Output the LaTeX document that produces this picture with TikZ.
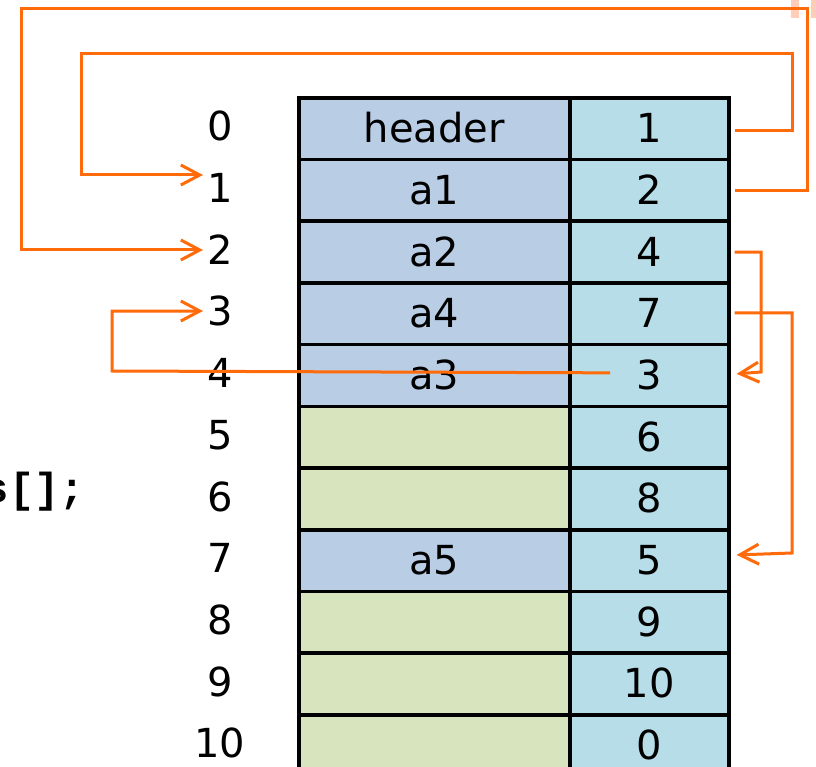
\documentclass[tikz,border=0pt]{standalone}
\usepackage{fontspec}
\setmainfont{DejaVu Sans}
\setmonofont{Liberation Mono}
\usetikzlibrary{arrows.meta,calc}
\definecolor{usedblue}{HTML}{B9CDE5}
\definecolor{freegreen}{HTML}{D7E4BD}
\definecolor{nextcyan}{HTML}{B7DEE8}
\definecolor{linkorange}{HTML}{FF6A0A}
\definecolor{paleorange}{HTML}{FFCDB8}
\begin{document}
\begin{tikzpicture}[x=1pt,y=-1pt,
  cell/.style={draw=black,line width=3.6pt,minimum height=61.7pt,inner sep=0pt,
    text height=28pt,text depth=0pt,anchor=north west,
    font=\fontsize{40}{48}\selectfont},
  datacell/.style={cell,minimum width=271pt},
  nextcell/.style={cell,fill=nextcyan,minimum width=159pt},
  idxlabel/.style={anchor=base,inner sep=0pt,font=\fontsize{40}{48}\selectfont},
  link/.style={draw=linkorange,line width=3pt},
  linkarrow/.style={link,-{Straight Barb[length=19pt,width=20pt,line width=3pt]}}
]
\clip (0,0) rectangle (816,767);
\useasboundingbox (0,0) rectangle (816,767);

% free-list table: payload column and next-index column
\foreach \i/\data/\fillc/\nxt in {0/header/usedblue/1, 1/a1/usedblue/2, 2/a2/usedblue/4,
    3/a4/usedblue/7, 4/a3/usedblue/3, 5//freegreen/6, 6//freegreen/8, 7/a5/usedblue/5,
    8//freegreen/9, 9//freegreen/10, 10//freegreen/0} {
  \pgfmathsetmacro{\top}{96+61.7*\i}
  \node[datacell,fill=\fillc] (c\i) at (297,\top) {\data};
  \node[nextcell] (v\i) at (568,\top) {\nxt};
  \node[idxlabel] (idx\i) at (220,\top+30.85+14) {\i};
}

% partly visible declaration on the left
\node[anchor=base east,inner sep=0pt,font=\ttfamily\bfseries\fontsize{42}{48}\selectfont]
  (decl) at (85,502) {s[];};

% fragment at the top right corner
\fill[paleorange] (791,0) rectangle (799,18);
\fill[paleorange] (811,0) rectangle (816,18);

% next-index links
\coordinate (in1) at (203,175);
\coordinate (in2) at (203,250);
\coordinate (in3) at (203,311);
\draw[linkarrow] ($(v0.east)+(4,2)$) -| (792,54) -| (81,175) -- (in1);
\draw[linkarrow] ($(v1.east)+(4,0)$) -| (807,9) -| (21,250) -- (in2);
\draw[linkarrow] ($(v2.east)+(4,0)$) -| (761,372) -- ($(v4.east)+(6,-1.6)$);
\draw[linkarrow] ($(v3.east)+(4,-1)$) -| (792,553) -- ($(v7.east)+(6,-5.6)$);
\draw[linkarrow] ($(v4.west)+(42,-2.6)$) -- (112,371) |- (in3);
\end{tikzpicture}
\end{document}
